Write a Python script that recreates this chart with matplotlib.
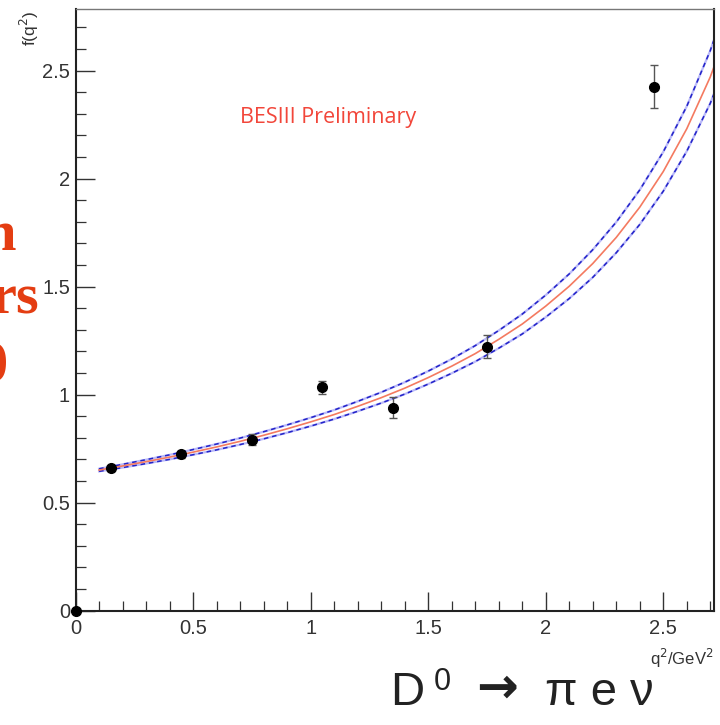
import matplotlib
matplotlib.use("Agg")
import matplotlib.pyplot as plt
from matplotlib.ticker import MultipleLocator
import numpy as np

# measured form factor points
q2_pts = [0.15, 0.45, 0.75, 1.05, 1.35, 1.75, 2.46]
f_pts = [0.659, 0.724, 0.790, 1.034, 0.940, 1.222, 2.426]
f_err_lo = [0.012, 0.015, 0.025, 0.032, 0.047, 0.052, 0.100]
f_err_hi = [0.012, 0.015, 0.028, 0.030, 0.050, 0.054, 0.100]

# fitted curve (central value) and its band half-width
q2_fit = [0.1, 0.2, 0.3, 0.4, 0.5, 0.6, 0.7, 0.8, 0.9, 1.0, 1.1, 1.2, 1.3,
          1.4, 1.5, 1.6, 1.7, 1.8, 1.9, 2.0, 2.1, 2.2, 2.3, 2.4, 2.5, 2.6,
          2.7, 2.8]
f_fit = [0.651, 0.670, 0.690, 0.711, 0.734, 0.758, 0.784, 0.812, 0.842,
         0.874, 0.908, 0.946, 0.986, 1.030, 1.079, 1.132, 1.190, 1.256,
         1.327, 1.410, 1.502, 1.607, 1.728, 1.868, 2.033, 2.231, 2.471,
         2.768]
f_band = [0.006, 0.0075, 0.009, 0.0105, 0.012, 0.0135, 0.015, 0.0165,
          0.018, 0.0195, 0.021, 0.023, 0.025, 0.0275, 0.030, 0.033, 0.037,
          0.041, 0.046, 0.051, 0.057, 0.064, 0.071, 0.080, 0.091, 0.104,
          0.122, 0.140]

fig = plt.figure(figsize=(7.2, 7.25), dpi=100)
ax = fig.add_axes([0.105, 0.1577, 0.8867, 0.83])

fit = np.array(f_fit)
band = np.array(f_band)
for edge in (fit + band, fit - band):
    ax.plot(q2_fit, edge, color="#8c8cf5", lw=1.6, alpha=0.6)
    ax.plot(q2_fit, edge, color="#2323c8", lw=1.1, dashes=(3, 2.5))
ax.plot(q2_fit, fit, color="#f47a60", lw=1.2)

ax.errorbar(q2_pts, f_pts, yerr=[f_err_lo, f_err_hi], fmt="o", color="black",
            ms=7, ecolor="#555555", elinewidth=1.0, capsize=3, capthick=1.0,
            zorder=5)
ax.plot([0], [0], "o", color="black", ms=7, clip_on=False, zorder=6)

ax.set_xlim(0, 2.716)
ax.set_ylim(0, 2.786)

ax.xaxis.set_major_locator(MultipleLocator(0.5))
ax.xaxis.set_minor_locator(MultipleLocator(0.1))
ax.yaxis.set_major_locator(MultipleLocator(0.5))
ax.yaxis.set_minor_locator(MultipleLocator(0.1))
fmt = lambda v, p: "0" if v == 0 else ("%g" % v)
ax.xaxis.set_major_formatter(plt.FuncFormatter(fmt))
ax.yaxis.set_major_formatter(plt.FuncFormatter(fmt))

ax.tick_params(which="both", direction="in", top=False, right=False,
               colors="#333333", labelcolor="#333333")
ax.tick_params(which="major", length=14, width=1.0, labelsize=14.5)
ax.tick_params(axis="x", which="major", pad=6)
ax.tick_params(axis="y", which="major", pad=4)
ax.tick_params(which="minor", length=7, width=0.9)
for lab in ax.get_xticklabels() + ax.get_yticklabels():
    lab.set_fontfamily("Liberation Sans")

for side in ["left", "bottom", "right"]:
    ax.spines[side].set_linewidth(1.5)
    ax.spines[side].set_color("#222222")
ax.spines["top"].set_linewidth(1.0)
ax.spines["top"].set_color("#777777")

fig.text(0.9917, 0.092, "q$^2$/GeV$^2$", ha="right", va="center",
         fontsize=12, color="#333333", family="Liberation Sans")
fig.text(0.041, 0.985, "f(q$^2$)", ha="center", va="top", rotation=90,
         fontsize=12.5, color="#333333", family="Liberation Sans")

ax.text(0.395, 0.82, "BESIII Preliminary", transform=ax.transAxes,
        ha="center", va="center", fontsize=15.5, color="#f2463a",
        family="Open Sans")

# decay label under the plot, built from pieces
ink = "#222222"
y_dec = 1 - 705 / 725
fig.text(390 / 720, y_dec, "D", ha="left", va="baseline", fontsize=34,
         color=ink, family="Liberation Sans")
fig.text(434 / 720, 1 - 690 / 725, "0", ha="left", va="baseline",
         fontsize=22, color=ink, family="Liberation Sans")
fig.text(497 / 720, y_dec + 0.003, "→", ha="center", va="baseline",
         fontsize=36, fontweight="bold", color=ink, family="DejaVu Sans")
fig.text(545 / 720, y_dec, "π e ν", ha="left", va="baseline", fontsize=34,
         color=ink, family="Liberation Sans")

# slide title text running off the left edge
red = "#e43d12"
fig.text(16 / 720, 1 - 250 / 725, "n", ha="right", va="baseline",
         fontsize=42, fontweight="bold", color=red, family="Liberation Serif")
fig.text(39 / 720, 1 - 313 / 725, "rs", ha="right", va="baseline",
         fontsize=42, fontweight="bold", color=red, family="Liberation Serif")
fig.text(8 / 720, 1 - 380 / 725, "0", ha="right", va="baseline",
         fontsize=42, fontweight="bold", color=red, family="Liberation Serif")

fig.savefig("out.png", dpi=100)
